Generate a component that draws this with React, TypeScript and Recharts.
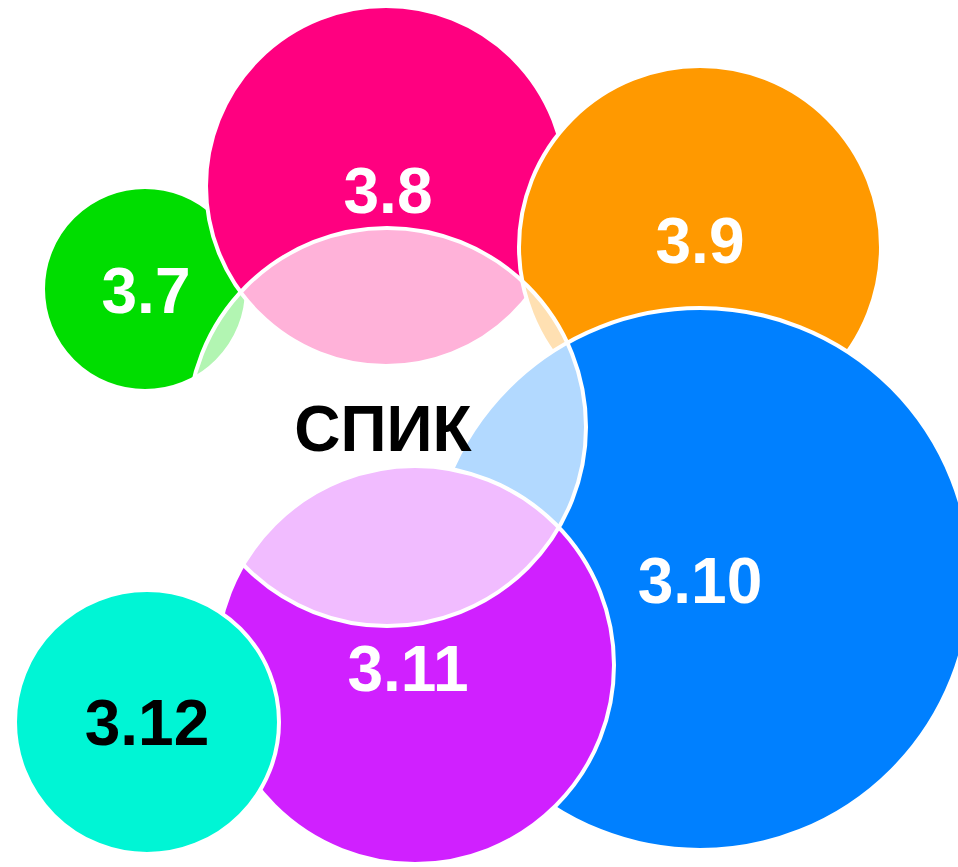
import React from 'react';
import { ScatterChart, Scatter, XAxis, YAxis } from 'recharts';

const W = 958;
const H = 867;
const FONT = '"Liberation Sans", Arial, sans-serif';
const FONT_SIZE = 64;

// sets drawn bottom to top
const setNames = ['3.7', '3.8', '3.9', '3.10', '3.11', '3.12'];
const setX = [145, 386, 700, 700, 415, 147];
const setY = [289, 186, 247, 579, 665, 722];
const setR = [102, 180, 181, 271, 199, 132];
const setColors = ['#00dd00', '#ff0080', '#ff9900', '#0080ff', '#d020ff', '#00f5d5'];
const labelX = [146, 388, 700, 700, 408, 147];
const labelY = [290, 190, 240, 580, 668, 722];
const labelColors = ['#fff', '#fff', '#fff', '#fff', '#fff', '#000'];

// the middle set
const centerName = 'СПИК';
const centerX = 387;
const centerY = 427;
const centerR = 199;

const sets = setNames.map((name, i) => ({
    name,
    x: setX[i],
    y: setY[i],
    r: setR[i],
    color: setColors[i],
}));

const center = [{ name: centerName, x: centerX, y: centerY, r: centerR }];

const labels = [
    ...setNames.map((name, i) => ({ name, x: labelX[i], y: labelY[i], color: labelColors[i] })),
    { name: centerName, x: 383, y: 428, color: '#000' },
];

const SetCircle = (props: any) => {
    const { cx, cy, payload } = props;
    return <circle cx={cx} cy={cy} r={payload.r} fill={payload.color} stroke="#fff" strokeWidth={4} />;
};

const CenterCircle = (props: any) => {
    const { cx, cy, payload } = props;
    return (
        <g>
            <defs>
                <clipPath id="center-clip">
                    <circle cx={cx} cy={cy} r={payload.r} />
                </clipPath>
            </defs>
            <circle cx={cx} cy={cy} r={payload.r} fill="#fff" />
        </g>
    );
};

// each set seen through the middle set, as a pale lens
const Overlap = (props: any) => {
    const { cx, cy, payload } = props;
    return (
        <g clipPath="url(#center-clip)">
            <circle cx={cx} cy={cy} r={payload.r} fill="#fff" />
            <circle cx={cx} cy={cy} r={payload.r} fill={payload.color} fillOpacity={0.3} stroke="#fff" strokeWidth={4} />
        </g>
    );
};

const CenterOutline = (props: any) => {
    const { cx, cy, payload } = props;
    return <circle cx={cx} cy={cy} r={payload.r} fill="none" stroke="#fff" strokeWidth={4} />;
};

const Label = (props: any) => {
    const { cx, cy, payload } = props;
    return (
        <text
            x={cx}
            y={cy + FONT_SIZE * 0.36}
            textAnchor="middle"
            fontFamily={FONT}
            fontWeight="bold"
            fontSize={FONT_SIZE}
            fill={payload.color}
        >
            {payload.name}
        </text>
    );
};

export default function App() {
    return (
        <div style={{ position: 'absolute', left: 0, top: 0, width: W, height: H, background: '#fff' }}>
            <ScatterChart width={W} height={H} margin={{ top: 0, right: 0, bottom: 0, left: 0 }}>
                <XAxis type="number" dataKey="x" domain={[0, W]} hide />
                <YAxis type="number" dataKey="y" domain={[0, H]} reversed hide />
                <Scatter data={sets} shape={SetCircle} isAnimationActive={false} />
                <Scatter data={center} shape={CenterCircle} isAnimationActive={false} />
                <Scatter data={sets} shape={Overlap} isAnimationActive={false} />
                <Scatter data={center} shape={CenterOutline} isAnimationActive={false} />
                <Scatter data={labels} shape={Label} isAnimationActive={false} />
            </ScatterChart>
        </div>
    );
}
